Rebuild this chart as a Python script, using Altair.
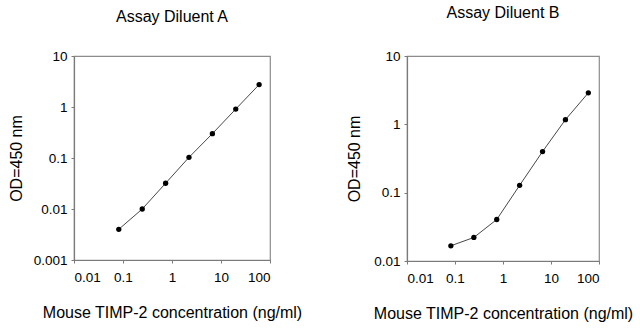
import altair as alt
import pandas as pd

conc = [0.082, 0.247, 0.741, 2.22, 6.67, 20, 60]
od_a = [0.0040, 0.0100, 0.032, 0.103, 0.30, 0.91, 2.75]
od_b = [0.0167, 0.0221, 0.0405, 0.128, 0.40, 1.17, 2.89]

x_ticks = [0.01, 0.1, 1, 10, 100]
y_ticks_a = [0.001, 0.01, 0.1, 1, 10]
y_ticks_b = [0.01, 0.1, 1, 10]

title_a = "Assay Diluent A"
title_b = "Assay Diluent B"
x_title = "Mouse TIMP-2 concentration (ng/ml)"
y_title = "OD=450 nm"

FONT = "Liberation Sans"


def panel(od, title, ydom, yticks, w, h, ytx, toff):
    df = pd.DataFrame({"conc": conc, "od": od})
    x = alt.X(
        "conc:Q",
        scale=alt.Scale(type="log", domain=[0.01, 100], nice=False),
        axis=alt.Axis(values=x_ticks, format="~g", title=x_title,
                      titleY=52, titleBaseline="middle"),
    )
    y = alt.Y(
        "od:Q",
        scale=alt.Scale(type="log", domain=ydom, nice=False),
        axis=alt.Axis(values=yticks, format="~g", title=y_title,
                      titleX=ytx, titleY=h / 2, titleBaseline="middle",
                      titleAngle=270, titleAlign="center"),
    )
    base = alt.Chart(df)
    line = base.mark_line(color="#333333", strokeWidth=0.9).encode(x=x, y=y)
    pts = base.mark_circle(color="black", size=28, opacity=1).encode(x=x, y=y)
    return alt.layer(line, pts).properties(
        width=w, height=h,
        title=alt.TitleParams(title, fontSize=16, fontWeight="normal",
                              font=FONT, color="black", anchor="middle",
                              offset=toff),
    )


left = panel(od_a, title_a, [0.001, 10], y_ticks_a, 196, 204, -58, 24)
right = panel(od_b, title_b, [0.01, 10], y_ticks_b, 192, 205, -53, 28)

chart = alt.hconcat(left, right, spacing=137, bounds="flush").properties(
    padding={"left": 7, "top": 4, "right": 0, "bottom": 0}
).configure_view(
    stroke="#8c8c8c", strokeWidth=1.2
).configure_axis(
    grid=False,
    domainColor="#7a7a7a", domainWidth=1.2,
    tickColor="#7a7a7a", tickSize=3, tickWidth=1,
    labelFont=FONT, labelFontSize=13.5, labelColor="black",
    titleFont=FONT, titleFontSize=16, titleFontWeight="normal",
    titleColor="black",
).configure_axisX(
    labelPadding=7
).configure_axisY(
    labelPadding=4
)

chart.save("out.html", embed_options={"renderer": "svg", "actions": False})
